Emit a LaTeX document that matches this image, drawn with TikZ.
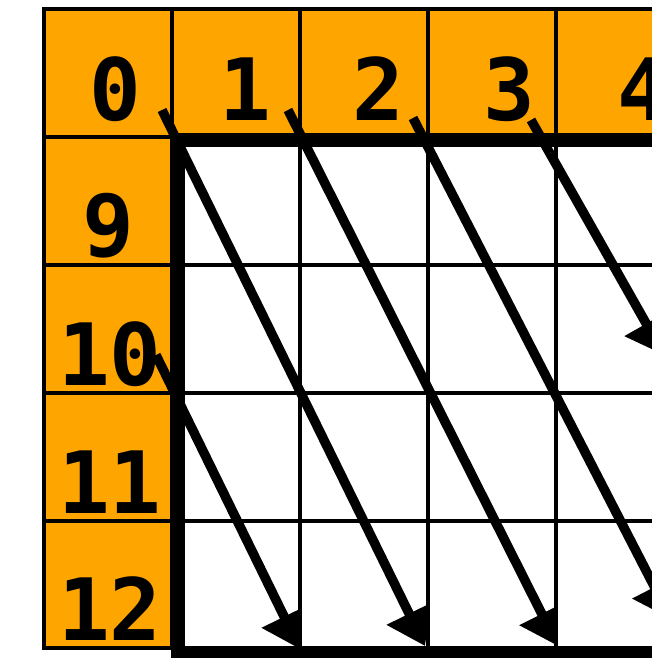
\documentclass[tikz,border=0pt]{standalone}
\usepackage{fontspec}
\newfontfamily\dmono{DejaVu Sans Mono}
\usetikzlibrary{arrows.meta}
\definecolor{cellorange}{RGB}{255,165,0}
\tikzset{
  thin grid/.style={line width=4.5pt, black},
  thick frame/.style={line width=14pt, black},
  num/.style={anchor=base, inner sep=0pt, font=\dmono\bfseries\fontsize{86}{86}\selectfont},
  diagarrow/.style={line width=9.5pt, black, -{Triangle[length=36pt,width=48pt]}},
}
\begin{document}
\begin{tikzpicture}[x=1pt,y=-1pt]
\useasboundingbox (0,0) rectangle (651,658);
% fills
\fill[white] (0,0) rectangle (651,658);
\fill[cellorange] (44,9) rectangle (700,137);
\fill[cellorange] (44,9) rectangle (172,648);
% labels
\node[num] (l0) at (115,121) {0};
\node[num] (l1) at (245,121) {1};
\node[num] (l2) at (378,121) {2};
\node[num] (l3) at (509,121) {3};
\node[num] (l4) at (643,121) {4};
\node[num] (l9) at (108,256) {9};
\node[num] (l10) at (110,385) {10};
\node[num] (l11) at (110,513) {11};
\node[num] (l12) at (110,640) {12};
% arrow end points
\coordinate (s0) at (162,110); \coordinate (e0) at (425,646);
\coordinate (s1) at (288,110); \coordinate (e1) at (558,646);
\coordinate (s2) at (413,118); \coordinate (e2) at (671,619);
\coordinate (s3) at (531,120); \coordinate (e3) at (664,355);
\coordinate (s10) at (156,355); \coordinate (e10) at (300,649);
% arrows (clipped at the next column line)
\begin{scope}
  \clip (0,0) rectangle (298,646);
  \draw[diagarrow] (s10) -- (e10);
\end{scope}
\begin{scope}
  \clip (0,0) rectangle (426,646);
  \draw[diagarrow] (s0) -- (e0);
\end{scope}
\begin{scope}
  \clip (0,0) rectangle (555,646);
  \draw[diagarrow] (s1) -- (e1);
\end{scope}
\draw[diagarrow] (s2) -- (e2);
\draw[diagarrow] (s3) -- (e3);
% thin grid
\draw[thin grid] (44,9) -- (700,9);
\draw[thin grid] (44,137) -- (700,137);
\foreach \yy in {265,393,521} \draw[thin grid] (44,\yy) -- (700,\yy);
\draw[thin grid] (44,648) -- (172,648);
\draw[thin grid] (44,7) -- (44,650);
\draw[thin grid] (172,7) -- (172,650);
\foreach \xx in {300,428,556} \draw[thin grid] (\xx,7) -- (\xx,653);
% thick frame
\draw[thick frame] (700,140) -- (178,140) -- (178,653) -- (700,653);
\end{tikzpicture}
\end{document}
